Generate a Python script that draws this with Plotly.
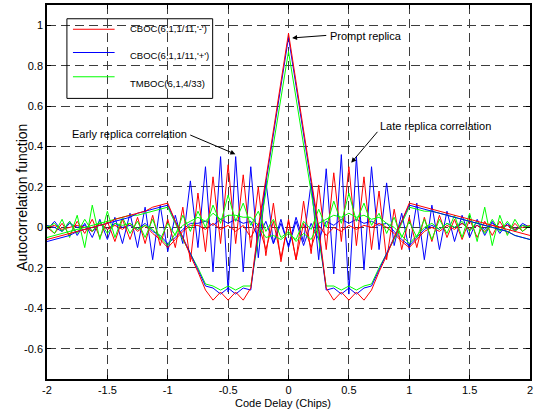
import plotly.graph_objects as go

# Code delay grid in chips (1/16-chip steps from -2 to 2)
delay = [round(-2 + k / 16, 4) for k in range(65)]

# Main autocorrelation functions
acf_cboc_minus = [-0.06, -0.05, -0.04, -0.03, -0.02, -0.01, 0.00, 0.01, 0.02, 0.04, 0.05, 0.06, 0.07, 0.08, 0.10, 0.11, 0.12,
                  0.03, -0.05, -0.14, -0.22, -0.31,
                  -0.36, -0.32, -0.36, -0.32, -0.36,
                  -0.30,
                  0.00, 0.24, 0.48, 0.72, 0.96,
                  0.72, 0.48, 0.24, 0.00,
                  -0.30,
                  -0.36, -0.32, -0.36, -0.32, -0.36,
                  -0.31, -0.22, -0.14, -0.05, 0.03,
                  0.12,
                  0.11, 0.10, 0.09, 0.08, 0.07, 0.06, 0.05, 0.04, 0.03, 0.02, 0.01, 0.00, -0.01, -0.02, -0.03, -0.04]
acf_cboc_plus = [-0.07, -0.06, -0.05, -0.04, -0.02, -0.01, 0.00, 0.01, 0.02, 0.03, 0.04, 0.05, 0.07, 0.08, 0.09, 0.10, 0.11,
                 0.03, -0.05, -0.13, -0.21, -0.29,
                 -0.30, -0.33, -0.30, -0.33, -0.30,
                 -0.31,
                 -0.02, 0.22, 0.46, 0.70, 0.94,
                 0.70, 0.46, 0.22, -0.02,
                 -0.31,
                 -0.30, -0.33, -0.30, -0.33, -0.30,
                 -0.29, -0.21, -0.13, -0.05, 0.03,
                 0.11,
                 0.10, 0.09, 0.08, 0.07, 0.06, 0.05, 0.04, 0.03, 0.02, 0.01, 0.00, -0.01, -0.02, -0.04, -0.05, -0.06]
acf_tmboc = [-0.05, -0.04, -0.03, -0.02, -0.01, 0.00, 0.01, 0.02, 0.03, 0.04, 0.05, 0.06, 0.06, 0.07, 0.08, 0.09, 0.10,
             0.02, -0.06, -0.13, -0.20, -0.28,
             -0.29, -0.31, -0.29, -0.31, -0.29,
             -0.29,
             -0.05, 0.18, 0.41, 0.64, 0.87,
             0.64, 0.41, 0.18, -0.05,
             -0.29,
             -0.29, -0.31, -0.29, -0.31, -0.29,
             -0.28, -0.20, -0.13, -0.06, 0.02,
             0.10,
             0.09, 0.08, 0.08, 0.07, 0.06, 0.05, 0.04, 0.03, 0.02, 0.01, 0.00, -0.01, -0.02, -0.04, -0.05, -0.06]

# Early replica correlation
early_cboc_plus = [-0.01, 0.03, -0.02, 0.03, -0.04, 0.02, -0.05, 0.04, -0.06, 0.05, -0.08, 0.07, -0.10, 0.10, -0.16, 0.11, -0.12,
                   0.06, -0.08, 0.23, -0.10, 0.30, -0.22, 0.35, -0.32, 0.35, -0.22, 0.30, -0.15, 0.23, -0.08, 0.04, -0.10,
                   0.03, -0.09, 0.02, -0.06, 0.03, 0.01, 0.04, 0.02, 0.04, 0.02, 0.03, 0.01, 0.02, -0.02, -0.06, -0.09,
                   -0.05, -0.01, 0.01, -0.01, 0.02, 0.00, 0.02, -0.01, 0.01, -0.01, 0.02, 0.00, 0.01, -0.01, 0.01, 0.00]
early_cboc_minus = [0.00, -0.03, 0.02, -0.04, 0.03, -0.03, 0.04, -0.05, 0.03, -0.07, 0.04, -0.06, 0.05, -0.08, 0.06, -0.09, 0.04,
                    -0.10, 0.10, -0.17, 0.17, -0.12, 0.25, -0.08, 0.31, -0.08, 0.26, -0.10, 0.20, -0.14, 0.12, -0.17, 0.04,
                    -0.16, 0.02, -0.10, 0.01, -0.04, 0.00, -0.02, 0.01, -0.01, 0.01, 0.00, 0.02, 0.00, -0.03, -0.07, -0.10,
                    -0.06, -0.02, 0.00, -0.02, 0.01, -0.01, 0.02, -0.01, 0.01, -0.02, 0.01, 0.00, 0.01, -0.01, 0.00, 0.01]
early_tmboc = [0.01, -0.03, 0.04, -0.05, 0.06, -0.10, 0.11, -0.06, 0.08, -0.05, 0.05, -0.03, 0.03, -0.05, 0.04, -0.06, 0.02,
               -0.04, 0.06, -0.02, 0.08, 0.00, 0.11, 0.02, 0.16, 0.03, 0.12, 0.01, 0.08, -0.02, 0.04, -0.05, -0.02,
               -0.07, -0.03, -0.06, 0.02, 0.04, 0.06, 0.05, 0.07, 0.05, 0.06, 0.04, 0.05, 0.02, 0.00, -0.04, -0.08,
               -0.04, 0.00, 0.02, -0.01, 0.02, 0.00, 0.03, -0.02, 0.03, -0.03, 0.04, -0.02, 0.03, -0.02, 0.01, 0.00]

# Late replica correlation
late_cboc_plus = [0.01, 0.00, -0.02, 0.02, 0.00, 0.01, -0.02, 0.02, -0.01, 0.02, 0.00, 0.01, -0.01, 0.02, -0.02, -0.04,
                  -0.08,
                  -0.05, -0.01, 0.02, 0.02, 0.03, 0.01, 0.04, 0.02, 0.04, 0.02, 0.03, -0.05, 0.03, -0.08, 0.02,
                  -0.09,
                  0.05, -0.07, 0.22, -0.16, 0.29, -0.23, 0.36, -0.33, 0.35, -0.21, 0.30, -0.11, 0.22, -0.09, 0.07,
                  -0.11, 0.12, -0.16, 0.11, -0.11, 0.08, -0.07, 0.06, -0.05, 0.04, -0.04, 0.03, -0.03, 0.02, -0.02, 0.02, 0.00]
late_cboc_minus = [0.00, 0.01, -0.01, 0.00, 0.01, 0.00, -0.02, 0.02, -0.01, 0.01, -0.01, 0.02, -0.02, 0.01, -0.03, -0.06,
                   -0.10,
                   -0.06, -0.02, 0.01, 0.01, -0.01, 0.02, -0.01, 0.01, -0.02, 0.01, -0.05, 0.02, -0.11, 0.03, -0.15,
                   0.03,
                   -0.16, 0.13, -0.13, 0.21, -0.11, 0.27, -0.07, 0.30, -0.09, 0.25, -0.11, 0.18, -0.16, 0.09, -0.11,
                   0.05, -0.10, 0.05, -0.07, 0.06, -0.05, 0.04, -0.06, 0.04, -0.05, 0.03, -0.04, 0.03, -0.03, 0.02, -0.02, 0.01]
late_tmboc = [0.00, 0.02, -0.02, 0.03, -0.03, 0.04, -0.02, 0.03, -0.03, 0.02, 0.01, 0.02, -0.01, 0.01, -0.01, -0.05,
              -0.09,
              -0.03, 0.01, 0.03, 0.05, 0.03, 0.07, 0.04, 0.06, 0.06, 0.05, 0.05, 0.01, -0.05, -0.04, -0.06,
              -0.03,
              -0.06, 0.03, -0.01, 0.09, 0.00, 0.13, 0.02, 0.17, 0.03, 0.12, 0.01, 0.07, -0.03, 0.05, -0.05,
              0.03, -0.05, 0.04, -0.06, 0.04, -0.03, 0.06, -0.05, 0.07, -0.07, 0.10, -0.09, 0.06, -0.04, 0.04, -0.02, 0.01]

x_ticks = [-2, -1.5, -1, -0.5, 0, 0.5, 1, 1.5, 2]
x_ticklabels = ["-2", "-1.5", "-1", "-0.5", "0", "0.5", "1", "1.5", "2"]
y_ticks = [-0.6, -0.4, -0.2, 0, 0.2, 0.4, 0.6, 0.8, 1]
y_ticklabels = ["-0.6", "-0.4", "-0.2", "0", "0.2", "0.4", "0.6", "0.8", "1"]

legend_labels = ["CBOC(6,1,1/11,'-')", "CBOC(6,1,1/11,'+')", "TMBOC(6,1,4/33)"]

RED, BLUE, GREEN = "#ff0000", "#0000ff", "#00ff00"
FONT = "Liberation Sans, Arial, sans-serif"

fig = go.Figure()

series = [
    (early_cboc_plus, BLUE), (late_cboc_plus, BLUE),
    (early_cboc_minus, RED), (late_cboc_minus, RED),
    (early_tmboc, GREEN), (late_tmboc, GREEN),
    (acf_tmboc, GREEN), (acf_cboc_plus, BLUE), (acf_cboc_minus, RED),
]
for values, color in series:
    fig.add_trace(go.Scatter(x=delay, y=values, mode="lines",
                             line=dict(color=color, width=1), showlegend=False,
                             hoverinfo="skip"))

axis_common = dict(
    showgrid=True, gridcolor="#3c3c3c", gridwidth=1, griddash="9px,5px",
    showline=True, linecolor="black", linewidth=1.5, mirror="ticks",
    ticks="inside", ticklen=4, tickcolor="black", zeroline=False,
    tickfont=dict(family=FONT, size=11, color="black"),
)

fig.update_layout(
    width=536, height=412,
    margin=dict(l=47, r=5, t=3, b=33),
    plot_bgcolor="white", paper_bgcolor="white",
    xaxis=dict(range=[-2, 2], tickvals=x_ticks, ticktext=x_ticklabels, **axis_common),
    yaxis=dict(range=[-0.75, 1.1], tickvals=y_ticks, ticktext=y_ticklabels, **axis_common),
    showlegend=False,
)

# Legend box drawn in data coordinates (transparent, grid shows through)
legend_colors = [RED, BLUE, GREEN]
legend_line_y = [0.98, 0.865, 0.745]
legend_text_y = [0.985, 0.85, 0.71]
fig.add_shape(type="rect", xref="x", yref="y", x0=-1.835, x1=-0.628, y0=0.638, y1=1.032,
              line=dict(color="black", width=1), fillcolor="rgba(0,0,0,0)")
for label, color, ly, ty in zip(legend_labels, legend_colors, legend_line_y, legend_text_y):
    fig.add_shape(type="line", xref="x", yref="y", x0=-1.785, x1=-1.44, y0=ly, y1=ly,
                  line=dict(color=color, width=1))
    fig.add_annotation(x=-1.33, y=ty, xref="x", yref="y", text=label, showarrow=False,
                       xanchor="left", yanchor="middle",
                       font=dict(family=FONT, size=9.5, color="black"))

# Callouts
text_font = dict(family=FONT, size=11, color="black")
fig.add_annotation(x=0.33, y=0.946, xref="x", yref="y", text="Prompt replica", showarrow=False,
                   xanchor="left", yanchor="middle", font=text_font)
fig.add_annotation(x=-0.826, y=0.46, xref="x", yref="y", text="Early replica correlation", showarrow=False,
                   xanchor="right", yanchor="middle", font=text_font)
fig.add_annotation(x=0.744, y=0.50, xref="x", yref="y", text="Late replica correlation", showarrow=False,
                   xanchor="left", yanchor="middle", font=text_font)

arrows = [((0.325, 0.95), (0.03, 0.937)),
          ((-0.826, 0.46), (-0.44, 0.362)),
          ((0.747, 0.48), (0.52, 0.32))]
for (tx, ty), (hx, hy) in arrows:
    fig.add_annotation(x=hx, y=hy, ax=tx, ay=ty, xref="x", yref="y", axref="x", ayref="y",
                       text="", showarrow=True, arrowhead=2, arrowsize=1, arrowwidth=1,
                       arrowcolor="black", standoff=0, startstandoff=0)

# Axis titles
fig.add_annotation(x=-0.052, y=0.487, xref="paper", yref="paper", text="Autocorrelation function",
                   textangle=-90, showarrow=False, xanchor="center", yanchor="middle",
                   font=dict(family=FONT, size=14, color="black"))
fig.add_annotation(x=0.488, y=-0.064, xref="paper", yref="paper", text="Code Delay (Chips)",
                   showarrow=False, xanchor="center", yanchor="middle",
                   font=dict(family=FONT, size=11, color="black"))

fig.write_html("out.html")
